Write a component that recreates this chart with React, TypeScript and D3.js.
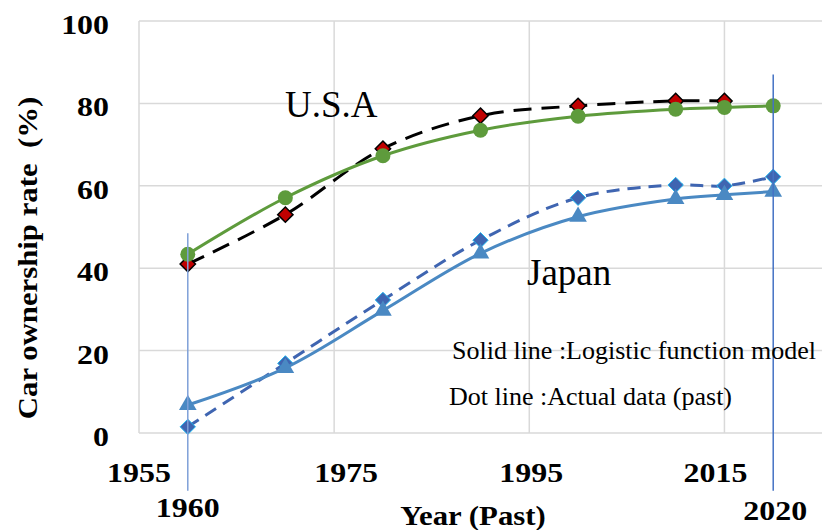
import React from "react";
import * as d3 from "d3";

const years = [1960, 1970, 1980, 1990, 2000, 2010, 2015, 2020];
const usaActual = [41, 53, 69, 77, 79.4, 80.6, 80.6];
const usaModel = [43.4, 57.1, 67.3, 73.5, 76.9, 78.6, 79.0, 79.4];
const japanActual = [1.5, 16.9, 32.3, 46.8, 57.1, 60.2, 60.0, 62.2];
const japanModel = [6.8, 15.8, 29.7, 43.6, 52.5, 56.8, 57.8, 58.6];
const xTicks = [1955, 1975, 1995, 2015];
const yTicks = [0, 20, 40, 60, 80, 100];
const markerYears = [1960, 2020];
const markerRanges = [[-14, 48.5], [-14, 87]];

const W = 824, H = 530;
const left = 139, right = 822, top = 21, bottom = 433;
const FONT = "'Liberation Serif', 'Times New Roman', serif";

function BoldText(props: { x: number; y: number; anchor?: string; size?: number; rotate?: number; children: React.ReactNode }) {
  const { x, y, anchor = "middle", size = 28, rotate = 0, children } = props;
  return (
    <text
      transform={`translate(${x},${y}) rotate(${rotate}) scale(1.14,1)`}
      textAnchor={anchor}
      fontFamily={FONT}
      fontWeight="bold"
      fontSize={size}
      fill="#000"
      style={{ whiteSpace: "pre" }}
    >
      {children}
    </text>
  );
}

export default function App() {
  const x = d3.scaleLinear().domain([1955, 2025]).range([left, right]);
  const y = d3.scaleLinear().domain([0, 100]).range([bottom, top]);
  const line = d3
    .line<[number, number]>()
    .x((d) => x(d[0]))
    .y((d) => y(d[1]))
    .curve(d3.curveCatmullRom.alpha(0.5));
  const pts = (vals: number[]) => vals.map((v, i) => [years[i], v] as [number, number]);

  const diamond = d3.symbol().type(d3.symbolDiamond2).size(150)();
  const tri = d3.symbol().type(d3.symbolTriangle).size(135)();
  const xTickNudge = [0, 12, 2, -9];

  return (
    <svg width={W} height={H} style={{ position: "absolute", left: 0, top: 0, background: "#fff" }}>
      {/* grid */}
      {yTicks.map((t) => (
        <line key={"gy" + t} x1={left} x2={right} y1={y(t)} y2={y(t)} stroke="#D9D9D9" strokeWidth={1.5} />
      ))}
      {xTicks.map((t) => (
        <line key={"gx" + t} x1={x(t)} x2={x(t)} y1={top} y2={bottom} stroke="#D9D9D9" strokeWidth={1.5} />
      ))}

      {/* y tick labels */}
      {yTicks.map((t) => (
        <BoldText key={"ty" + t} x={109} y={y(t) + 13} anchor="end">
          {t}
        </BoldText>
      ))}
      {/* x tick labels */}
      {xTicks.map((t, i) => (
        <BoldText key={"tx" + t} x={x(t) + xTickNudge[i]} y={482}>
          {t}
        </BoldText>
      ))}
      {markerYears.map((t, i) => (
        <BoldText key={"tm" + t} x={x(t) + (i === 0 ? 0 : 2)} y={i === 0 ? 517 : 520}>
          {t}
        </BoldText>
      ))}

      {/* axis titles */}
      <BoldText x={473} y={525} size={27}>Year (Past)</BoldText>
      <BoldText x={37} y={258} size={27} rotate={-90}>Car ownership rate  (%)</BoldText>

      {/* USA */}
      <path d={line(pts(usaActual)) || ""} fill="none" stroke="#000" strokeWidth={3} strokeDasharray="18 10" />
      {pts(usaActual).map((p, i) => (
        <path key={"ua" + i} d={diamond || ""} transform={`translate(${x(p[0])},${y(p[1])})`} fill="#C00000" stroke="#000" strokeWidth={1.5} />
      ))}
      <path d={line(pts(usaModel)) || ""} fill="none" stroke="#5E9B3C" strokeWidth={3} />
      {pts(usaModel).map((p, i) => (
        <circle key={"um" + i} cx={x(p[0])} cy={y(p[1])} r={7.5} fill="#5E9B3C" />
      ))}

      {/* Japan */}
      <path d={line(pts(japanActual)) || ""} fill="none" stroke="#3F65B1" strokeWidth={3} strokeDasharray="13 8" />
      {pts(japanActual).map((p, i) => (
        <path key={"ja" + i} d={diamond || ""} transform={`translate(${x(p[0])},${y(p[1])})`} fill="#3F65B1" stroke="#1FB5EE" strokeWidth={1} />
      ))}
      <path d={line(pts(japanModel)) || ""} fill="none" stroke="#4A89C3" strokeWidth={3} />
      {pts(japanModel).map((p, i) => (
        <path key={"jm" + i} d={tri || ""} transform={`translate(${x(p[0])},${y(p[1])})`} fill="#4A89C3" />
      ))}

      {/* vertical reference lines */}
      {markerYears.map((t, i) => (
        <line
          key={"vl" + t}
          x1={x(t)}
          x2={x(t)}
          y1={y(markerRanges[i][1])}
          y2={y(markerRanges[i][0])}
          stroke={i === 0 ? "#7FA0D8" : "#4472C4"}
          strokeWidth={1.5}
        />
      ))}

      {/* annotations */}
      <text x={285} y={117} fontFamily={FONT} fontSize={37} fill="#000">U.S.A</text>
      <text x={527} y={285} fontFamily={FONT} fontSize={37} fill="#000">Japan</text>
      <text x={452} y={359} fontFamily={FONT} fontSize={26} fill="#000" style={{ whiteSpace: "pre" }}>
        Solid line :Logistic function model
      </text>
      <text x={449} y={405} fontFamily={FONT} fontSize={26} fill="#000" style={{ whiteSpace: "pre" }}>
        Dot line :Actual data (past)
      </text>
    </svg>
  );
}
